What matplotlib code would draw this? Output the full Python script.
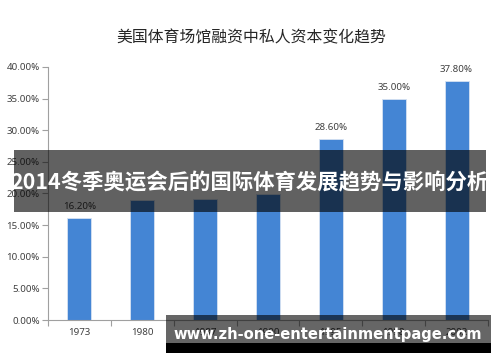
import matplotlib
matplotlib.use("Agg")
import matplotlib.pyplot as plt
from matplotlib.patches import Rectangle

plt.rcParams['font.family'] = ['Noto Sans CJK SC', 'DejaVu Sans']

years = ['1973', '1980', '1987', '1990', '1995', '1998', '2002']
values = [16.2, 18.9, 19.2, 19.9, 28.6, 35.0, 37.8]
shown_labels = {0: '16.20%', 4: '28.60%', 5: '35.00%', 6: '37.80%'}
title = '美国体育场馆融资中私人资本变化趋势'
banner = '2014冬季奥运会后的国际体育发展趋势与影响分析'
watermark = 'www.zh-one-entertainmentpage.com'

W, H = 500, 362
fig = plt.figure(figsize=(5, 3.62), dpi=100)
ax = fig.add_axes([48/W, 1-320/H, (488-48)/W, (320-67)/H])

x = list(range(len(years)))
ax.bar(x, values, width=0.38, color='#4485D4', edgecolor='#d6e2f2', linewidth=0.6, zorder=2)
ax.set_xlim(-0.5, len(years)-0.5)
ax.set_ylim(0, 40)
ax.set_yticks([0, 5, 10, 15, 20, 25, 30, 35, 40])
ax.set_yticklabels([f'{v:.2f}%' for v in [0, 5, 10, 15, 20, 25, 30, 35, 40]],
                   fontsize=7, color='#404040', family=['Noto Sans', 'DejaVu Sans'])
ax.set_xticks(x)
ax.set_xticklabels(years, fontsize=7, color='#404040', family=['Noto Sans', 'DejaVu Sans'])
ax.set_xticks([i-0.5 for i in range(len(years)+1)], minor=True)
ax.tick_params(axis='x', which='major', length=0, pad=6)
ax.tick_params(axis='x', which='minor', length=4, color='#a0a0a0', width=0.8)
ax.tick_params(axis='y', length=4, color='#a0a0a0', width=0.8, pad=2)
for s in ['top', 'right']:
    ax.spines[s].set_visible(False)
for s in ['left', 'bottom']:
    ax.spines[s].set_color('#a0a0a0')
    ax.spines[s].set_linewidth(0.8)

for i, lab in shown_labels.items():
    ax.annotate(lab, (x[i], values[i]), xytext=(0, 5), textcoords='offset points',
                ha='center', va='bottom', fontsize=7, color='#404040',
                family=['Noto Sans', 'DejaVu Sans'])

fig.text(251/W, 1-38/H, title, ha='center', va='center', fontsize=11.4, color='#262626')

# banner overlay
fig.patches.append(Rectangle((14/W, 1-212/H), (486-14)/W, (212-150)/H,
                             transform=fig.transFigure, facecolor='black', alpha=0.62,
                             edgecolor='none', zorder=10))
fig.text(249/W, 1-183/H, banner, ha='center', va='center', fontsize=15.4,
         color='white', fontweight='bold', zorder=11)

# watermark overlay
fig.patches.append(Rectangle((166/W, 1-343/H), (491-166)/W, (343-315)/H,
                             transform=fig.transFigure, facecolor='black', alpha=0.6,
                             edgecolor='none', zorder=10))
fig.patches.append(Rectangle((166/W, 1-353/H), (491-166)/W, (353-343)/H,
                             transform=fig.transFigure, facecolor='black', alpha=1.0,
                             edgecolor='none', zorder=10))
fig.text(328/W, 1-335/H, watermark, ha='center', va='center', fontsize=10.6,
         color='white', fontweight='bold', family=['DejaVu Sans'], zorder=11)

fig.savefig('out.png', dpi=100)
